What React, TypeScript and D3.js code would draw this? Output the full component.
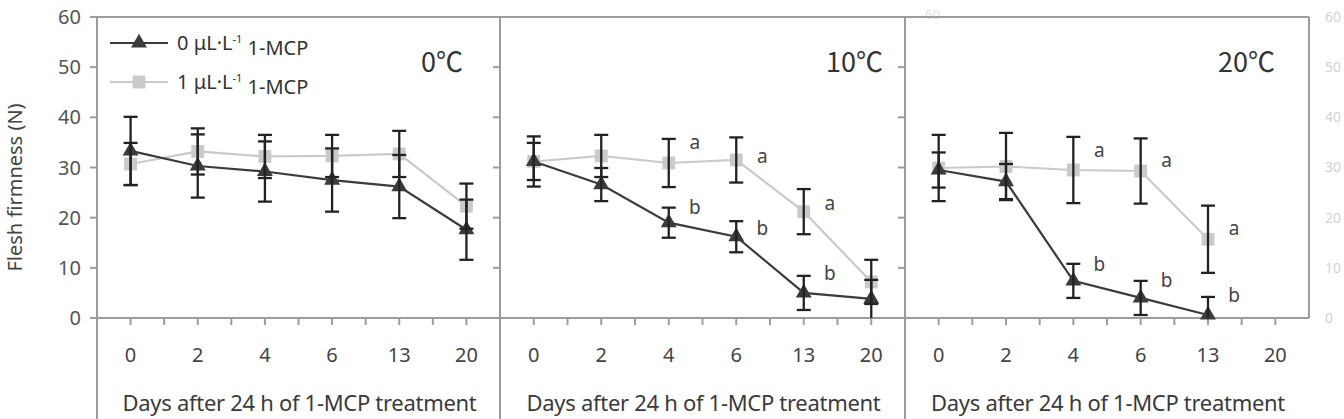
import React, { useEffect, useRef } from "react"
import * as d3 from "d3"

const days = ["0", "2", "4", "6", "13", "20"]
const temps = ["0℃", "10℃", "20℃"]
const yTicks = [0, 10, 20, 30, 40, 50, 60]
const legendLabels = ["0 μL·L", "1 μL·L"]

// 0 μL/L 1-MCP (control)
const control0 = [33.3, 30.3, 29.2, 27.5, 26.2, 17.6]
const controlErr0 = [6.8, 6.3, 6, 6.3, 6.3, 6]
const control10 = [31.2, 26.6, 19, 16.2, 5, 3.8]
const controlErr10 = [5, 3.3, 3, 3.1, 3.4, 3.8]
const control20 = [29.5, 27.2, 7.4, 4, 0.6, null]
const controlErr20 = [3.5, 3.5, 3.4, 3.4, 3.6, null]

// 1 μL/L 1-MCP
const mcp0 = [30.7, 33.2, 32.2, 32.3, 32.7, 22.3]
const mcpErr0 = [4.2, 4.6, 4.3, 4.2, 4.6, 4.5]
const mcp10 = [31.2, 32.3, 30.9, 31.5, 21.2, 7.2]
const mcpErr10 = [3.7, 4.2, 4.8, 4.5, 4.5, 4.4]
const mcp20 = [29.9, 30.2, 29.5, 29.3, 15.7, null]
const mcpErr20 = [6.6, 6.7, 6.6, 6.5, 6.7, null]

// significance letters (height on the firmness axis where each letter sits)
const letterA0 = [null, null, null, null, null, null]
const letterB0 = [null, null, null, null, null, null]
const letterA10 = [null, null, 35, 32.3, 22.9, null]
const letterB10 = [null, null, 22.1, 17.9, 9, null]
const letterA20 = [null, null, 33.5, 31.5, 17.9, null]
const letterB20 = [null, null, 10.6, 7.6, 4.6, null]

const App = () => {
  const chart = useRef<SVGSVGElement>(null)

  useEffect(() => {
    const svg = d3.select(chart.current)
    svg.selectAll("*").remove()

    const H = 419
    const top = 17
    const bottom = 318
    const edges = [97, 500, 905, 1309]
    const axisColor = "#9c9c9c"
    const textColor = "#444"
    const darkColor = "#3b3b3b"
    const lightColor = "#cacaca"
    const font = "'Noto Sans', sans-serif"

    const panels = [
      { c: control0, ce: controlErr0, m: mcp0, me: mcpErr0, la: letterA0, lb: letterB0, labelX: 463 },
      { c: control10, ce: controlErr10, m: mcp10, me: mcpErr10, la: letterA10, lb: letterB10, labelX: 883 },
      { c: control20, ce: controlErr20, m: mcp20, me: mcpErr20, la: letterA20, lb: letterB20, labelX: 1275 },
    ]

    const y = d3.scaleLinear().domain([0, 60]).range([bottom, top])

    // faint leftover label behind the third panel
    svg.append("text").attr("x", 925).attr("y", 19).attr("font-family", font)
      .attr("font-size", 13).attr("fill", "#e2e2e2").text("60")

    // frame
    const g = svg.append("g")
    g.append("line").attr("x1", edges[0]).attr("x2", edges[3]).attr("y1", top).attr("y2", top)
      .attr("stroke", axisColor).attr("stroke-width", 2)
    g.append("line").attr("x1", 90).attr("x2", edges[3]).attr("y1", bottom).attr("y2", bottom)
      .attr("stroke", axisColor).attr("stroke-width", 2)
    edges.forEach((e, i) => {
      g.append("line").attr("x1", e).attr("x2", e).attr("y1", top).attr("y2", i < 3 ? H : bottom)
        .attr("stroke", axisColor).attr("stroke-width", 2)
      if (i < 3) {
        g.selectAll(null).data(yTicks).enter().append("line")
          .attr("x1", e - 7).attr("x2", e).attr("y1", (d) => y(d)).attr("y2", (d) => y(d))
          .attr("stroke", axisColor).attr("stroke-width", 2)
      }
    })

    // left y labels
    g.selectAll(null).data(yTicks).enter().append("text")
      .attr("x", 81).attr("y", (d) => y(d)).attr("dy", "0.35em")
      .attr("text-anchor", "end").attr("font-family", font).attr("font-size", 20)
      .attr("fill", "#555").text((d) => d)

    // faint right y labels
    g.selectAll(null).data(yTicks).enter().append("text")
      .attr("x", 1325).attr("y", (d) => y(d)).attr("dy", "0.35em")
      .attr("font-family", font).attr("font-size", 14)
      .attr("fill", "#d2d2d2").text((d) => d)

    g.append("text")
      .attr("transform", `translate(22,${(top + bottom) / 2 + 20}) rotate(-90)`)
      .attr("text-anchor", "middle").attr("font-family", font).attr("font-size", 20)
      .attr("fill", textColor).text("Flesh firmness (N)")

    panels.forEach((p, pi) => {
      const x = d3.scaleBand().domain(days).range([edges[pi], edges[pi + 1]])
      const cx = (d: string) => (x(d) as number) + x.bandwidth() / 2
      const pg = svg.append("g")

      // x ticks at centres and band edges
      const tickXs: number[] = []
      days.forEach((d) => {
        tickXs.push(x(d) as number)
        tickXs.push(cx(d))
      })
      pg.selectAll(null).data(tickXs.slice(1)).enter().append("line")
        .attr("x1", (d) => d).attr("x2", (d) => d).attr("y1", bottom).attr("y2", bottom + 7)
        .attr("stroke", axisColor).attr("stroke-width", 2)

      pg.selectAll(null).data(days).enter().append("text")
        .attr("x", (d) => cx(d)).attr("y", 355).attr("dy", "0.35em")
        .attr("text-anchor", "middle").attr("font-family", font).attr("font-size", 20)
        .attr("fill", textColor).text((d) => d)

      pg.append("text")
        .attr("x", (edges[pi] + edges[pi + 1]) / 2 + 1).attr("y", 411)
        .attr("text-anchor", "middle").attr("font-family", font).attr("font-size", 22)
        .attr("letter-spacing", -0.3)
        .attr("fill", "#3a3a3a").text("Days after 24 h of 1-MCP treatment")

      pg.append("text")
        .attr("x", p.labelX).attr("y", 72)
        .attr("text-anchor", "end").attr("font-family", "'Noto Sans CJK KR', sans-serif")
        .attr("font-size", 27).attr("fill", "#333").text(temps[pi])

      const series = [
        { v: p.m, e: p.me, color: lightColor, sym: d3.symbolSquare, size: 165 },
        { v: p.c, e: p.ce, color: darkColor, sym: d3.symbolTriangle, size: 110 },
      ]

      series.forEach((s) => {
        const pts = days.map((d, i) => ({ d, v: s.v[i] })).filter((o) => o.v != null) as { d: string; v: number }[]
        const line = d3.line<{ d: string; v: number }>().x((o) => cx(o.d)).y((o) => y(o.v))
        pg.append("path").attr("d", line(pts)).attr("fill", "none")
          .attr("stroke", s.color).attr("stroke-width", 2.2)
        pg.selectAll(null).data(pts).enter().append("path")
          .attr("d", d3.symbol().type(s.sym).size(s.size)())
          .attr("transform", (o) => `translate(${cx(o.d)},${y(o.v)})`)
          .attr("fill", s.color)
      })

      series.forEach((s) => {
        days.forEach((d, i) => {
          const v = s.v[i]
          const e = s.e[i]
          if (v == null || e == null) return
          const y1 = y(v + e)
          const y2 = y(Math.max(0, v - e))
          const xc = cx(d)
          pg.append("line").attr("x1", xc).attr("x2", xc).attr("y1", y1).attr("y2", y2)
            .attr("stroke", "#222").attr("stroke-width", 2.3)
          pg.append("line").attr("x1", xc - 7).attr("x2", xc + 7).attr("y1", y1).attr("y2", y1)
            .attr("stroke", "#222").attr("stroke-width", 2.3)
          if (v - e > 0) {
            pg.append("line").attr("x1", xc - 7).attr("x2", xc + 7).attr("y1", y2).attr("y2", y2)
              .attr("stroke", "#222").attr("stroke-width", 2.3)
          }
        })
      })

      const letters = [
        { vals: p.la, t: "a" },
        { vals: p.lb, t: "b" },
      ]
      letters.forEach((l) => {
        days.forEach((d, i) => {
          const v = l.vals[i]
          if (v == null) return
          pg.append("text").attr("x", cx(d) + 26).attr("y", y(v)).attr("dy", "0.35em")
            .attr("text-anchor", "middle").attr("font-family", font).attr("font-size", 19)
            .attr("fill", textColor).text(l.t)
        })
      })
    })

    // legend
    const lg = svg.append("g")
    const legendRows = [
      { color: darkColor, sym: d3.symbolTriangle, size: 110, yy: 43 },
      { color: lightColor, sym: d3.symbolSquare, size: 165, yy: 82 },
    ]
    legendRows.forEach((r, i) => {
      lg.append("line").attr("x1", 110).attr("x2", 168).attr("y1", r.yy).attr("y2", r.yy)
        .attr("stroke", r.color).attr("stroke-width", 2.2)
      lg.append("path").attr("d", d3.symbol().type(r.sym).size(r.size)())
        .attr("transform", `translate(139,${r.yy})`).attr("fill", r.color)
      const t = lg.append("text").attr("x", 177).attr("y", r.yy).attr("dy", "0.35em")
        .attr("font-family", font).attr("font-size", 20).attr("fill", "#333")
      t.append("tspan").text(legendLabels[i])
      t.append("tspan").attr("font-size", 11).attr("dy", "-0.6em").text("-1")
      t.append("tspan").attr("dy", "0.6em").text(" 1-MCP")
    })
  }, [])

  return (
    <svg
      ref={chart}
      width={1344}
      height={419}
      style={{ position: "absolute", left: 0, top: 0, background: "#fff" }}
    />
  )
}

export default App
